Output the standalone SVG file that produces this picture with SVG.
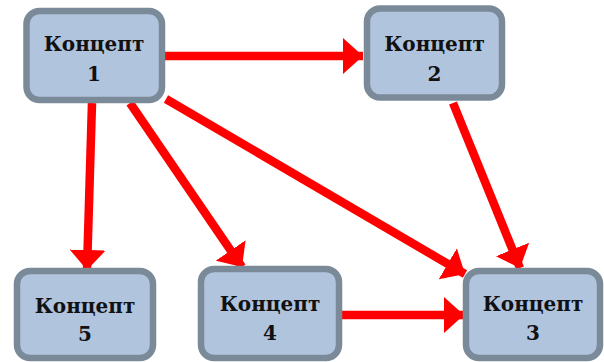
<svg xmlns="http://www.w3.org/2000/svg" width="604" height="362" viewBox="0 0 604 362">
<defs>
<style>
.node rect{fill:#b0c4de;stroke:#7b8a99;stroke-width:6.5}
.node text{font-family:"DejaVu Serif","Liberation Serif",serif;font-weight:bold;font-size:20px;fill:#111;text-anchor:middle}
.conn line{stroke:#ff0000;stroke-width:8.5;fill:none}
</style>
<marker id="ah" viewBox="0 0 20 36" refX="20" refY="18" markerWidth="20" markerHeight="36" markerUnits="userSpaceOnUse" orient="auto">
<path d="M0,0 L20,18 L0,36 Z" fill="#ff0000"/>
</marker>
</defs>
<g id="connectors" class="conn">
<line x1="165" y1="56" x2="363" y2="56" marker-end="url(#ah)"/>
<line x1="453" y1="103" x2="520" y2="268" marker-end="url(#ah)"/>
<line x1="92" y1="103" x2="87" y2="270" marker-end="url(#ah)"/>
<line x1="130" y1="103" x2="242" y2="267" marker-end="url(#ah)"/>
<line x1="166" y1="99" x2="465" y2="274" marker-end="url(#ah)"/>
<line x1="342" y1="315" x2="464" y2="315" marker-end="url(#ah)"/>
</g>
<g id="node1" class="node">
<rect x="26.5" y="11" width="135.5" height="89" rx="13"/>
<text x="94" y="51">Концепт</text>
<text x="94" y="81">1</text>
</g>
<g id="node2" class="node">
<rect x="367" y="8.5" width="135" height="89" rx="13"/>
<text x="434.5" y="51">Концепт</text>
<text x="434.5" y="81">2</text>
</g>
<g id="node5" class="node">
<rect x="17" y="271" width="136" height="87" rx="13"/>
<text x="85" y="313">Концепт</text>
<text x="85" y="341">5</text>
</g>
<g id="node4" class="node">
<rect x="201" y="269" width="138" height="89" rx="13"/>
<text x="270" y="311">Концепт</text>
<text x="270" y="340">4</text>
</g>
<g id="node3" class="node">
<rect x="466" y="271" width="134" height="87" rx="13"/>
<text x="533" y="311">Концепт</text>
<text x="533" y="340">3</text>
</g>
</svg>
